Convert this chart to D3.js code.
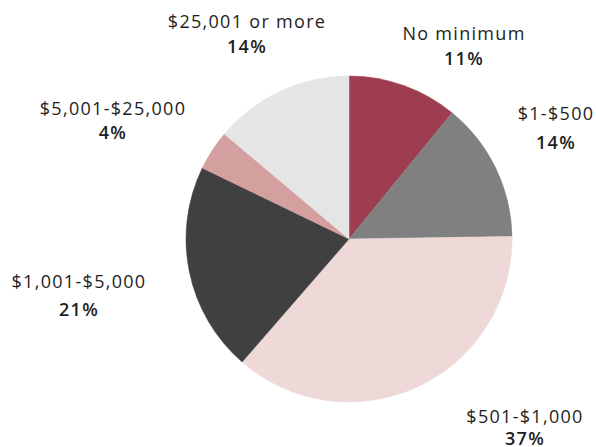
<!DOCTYPE html>
<html><head><meta charset="utf-8">
<script src="https://cdn.jsdelivr.net/npm/d3@7"></script>
<style>body{margin:0;background:#fff}</style>
</head><body>
<svg id="c" width="596" height="447"></svg>
<script>
const categories = ["No minimum", "$1-$500", "$501-$1,000", "$1,001-$5,000", "$5,001-$25,000", "$25,001 or more"];
const values = [11, 14, 37, 21, 4, 14];
const colors = ["#9e3c50", "#808080", "#eed8d8", "#404040", "#d4a09f", "#e5e5e5"];
// label layout: center x, baseline of name, baseline of percent
const labelPos = [[464, 40, 65], [556, 120, 149], [525, 423, 445], [79, 288, 316], [113, 115, 139], [247, 28, 53]];

const svg = d3.select("#c");
const cx = 349, cy = 239, r = 163;
const pie = d3.pie().sort(null).value(d => d)(values);
const arc = d3.arc().innerRadius(0).outerRadius(r);
const g = svg.append("g").attr("transform", `translate(${cx},${cy})`);
g.selectAll("path").data(pie).join("path")
  .attr("d", arc).attr("fill", (d, i) => colors[i])
  .attr("stroke", (d, i) => colors[i]).attr("stroke-width", 0.5);

const lab = svg.selectAll("g.lab").data(categories).join("g").attr("class", "lab");
lab.append("text").attr("x", (d, i) => labelPos[i][0]).attr("y", (d, i) => labelPos[i][1])
  .attr("text-anchor", "middle").attr("font-family", "Open Sans, sans-serif")
  .attr("font-size", 18).attr("letter-spacing", 1.3).attr("fill", "#1e1e1e").text(d => d);
lab.append("text").attr("x", (d, i) => labelPos[i][0]).attr("y", (d, i) => labelPos[i][2])
  .attr("text-anchor", "middle").attr("font-family", "Open Sans, sans-serif")
  .attr("font-size", 18).attr("font-weight", 600).attr("letter-spacing", 1.3).attr("fill", "#1e1e1e")
  .text((d, i) => values[i] + "%");
</script>
</body></html>
